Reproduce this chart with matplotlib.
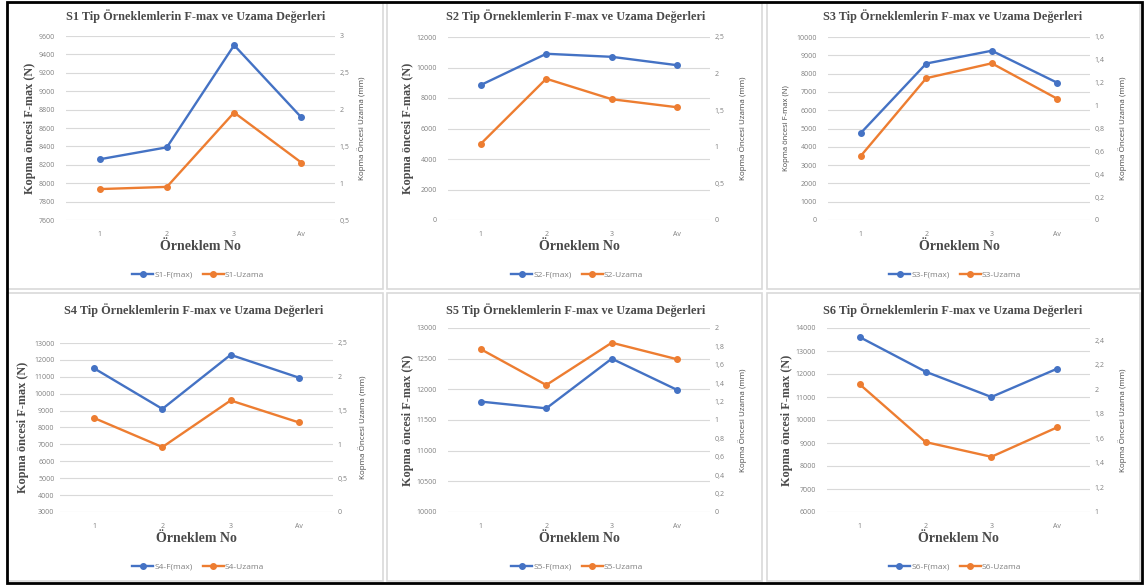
import matplotlib
matplotlib.use('Agg')
import matplotlib.pyplot as plt
from matplotlib.patches import Rectangle
from matplotlib.ticker import FuncFormatter, MultipleLocator

# Data
categories = ['1', '2', '3', 'Av']
names = ['S1', 'S2', 'S3', 'S4', 'S5', 'S6']

fmax = [
    [8260, 8390, 9500, 8715],
    [8850, 10900, 10700, 10150],
    [4750, 8550, 9250, 7500],
    [11500, 9100, 12300, 10950],
    [11800, 11690, 12500, 11990],
    [13600, 12100, 11000, 12230],
]
uzama = [
    [0.92, 0.95, 1.96, 1.28],
    [1.04, 1.93, 1.65, 1.54],
    [0.56, 1.24, 1.37, 1.06],
    [1.39, 0.96, 1.65, 1.325],
    [1.77, 1.38, 1.84, 1.66],
    [2.04, 1.57, 1.45, 1.69],
]

# axis ranges (min, max, step)
left_ax = [(7600, 9600, 200), (0, 12000, 2000), (0, 10000, 1000),
           (3000, 13000, 1000), (10000, 13000, 500), (6000, 14000, 1000)]
right_ax = [(0.5, 3, 0.5), (0, 2.5, 0.5), (0, 1.6, 0.2),
            (0, 2.5, 0.5), (0, 2, 0.2), (1, 2.5, 0.2)]

# Layout in pixels: plot x0, x1, y_top, y_bottom, title x, title y,
# left ylabel x, right ylabel x, xlabel y, legend x, legend y, ytick pad
layout = [
    (66, 335, 36, 220, 196, 16, 30, 362, 247, 198, 275, 8),
    (448, 710, 37, 220, 576, 16, 408, 743, 247, 577, 275, 8),
    (828, 1090, 37, 220, 953, 16, 787, 1123, 247, 955, 275, 8),
    (60, 333, 343, 512, 194, 310, 23, 363, 538, 198, 567, 4),
    (448, 710, 328, 512, 576, 310, 408, 743, 538, 577, 567, 8),
    (827, 1090, 328, 512, 953, 310, 787, 1123, 538, 955, 567, 8),
]
panels = [(7, 383, 3, 289), (387, 762, 3, 289), (767, 1140, 3, 289),
          (7, 383, 293, 581), (387, 762, 293, 581), (767, 1140, 293, 581)]

W, H = 1148, 588
BLUE = '#4472C4'
ORANGE = '#ED7D31'
GRID = '#D9D9D9'
TICK = '#808080'
LABEL = '#4a4a4a'

fig = plt.figure(figsize=(W / 100, H / 100), dpi=100)
fig.patch.set_facecolor('white')


def fx(x):
    return x / W


def fy(y):
    return 1 - y / H


def comma(v, pos):
    return ('%g' % round(v, 6)).replace('.', ',')


# panel frames
for x0, x1, y0, y1 in panels:
    fig.add_artist(Rectangle((fx(x0), fy(y1)), fx(x1 - x0), (y1 - y0) / H,
                             transform=fig.transFigure, fill=False,
                             edgecolor='#D9D9D9', linewidth=1.2))
# outer black frame
fig.add_artist(Rectangle((fx(7), fy(583)), fx(1142 - 7), (583 - 2) / H,
                         transform=fig.transFigure, fill=False,
                         edgecolor='black', linewidth=2))

serif = 'Liberation Serif'
sans = 'Open Sans'

for i in range(6):
    px0, px1, pt, pb, tx, ty, lyx, ryx, xly, lgx, lgy, ypad = layout[i]
    ax = fig.add_axes([fx(px0), fy(pb), fx(px1 - px0), (pb - pt) / H])
    ax2 = ax.twinx()
    xs = list(range(len(categories)))

    l1, = ax.plot(xs, fmax[i], color=BLUE, lw=1.7, marker='o', ms=4,
                  label=names[i] + '-F(max)')
    l2, = ax2.plot(xs, uzama[i], color=ORANGE, lw=1.7, marker='o', ms=4,
                   label=names[i] + '-Uzama')

    lo, hi, st = left_ax[i]
    ax.set_ylim(lo, hi)
    ax.yaxis.set_major_locator(MultipleLocator(st))
    rlo, rhi, rst = right_ax[i]
    ax2.set_ylim(rlo, rhi)
    ax2.yaxis.set_major_locator(MultipleLocator(rst))
    ax2.yaxis.set_major_formatter(FuncFormatter(comma))
    ax.yaxis.set_major_formatter(FuncFormatter(lambda v, p: '%d' % v))

    ax.set_xlim(-0.5, 3.5)
    ax.set_xticks(xs)
    ax.set_xticklabels(categories)
    ax.grid(axis='y', color=GRID, lw=0.8)
    ax.set_axisbelow(True)
    for a in (ax, ax2):
        for s in a.spines.values():
            s.set_visible(False)
        a.tick_params(length=0, labelsize=5, labelcolor=TICK)
        for lab in a.get_xticklabels() + a.get_yticklabels():
            lab.set_fontfamily(sans)
    ax.tick_params(axis='x', pad=8)
    ax.tick_params(axis='y', pad=ypad)
    ax2.tick_params(axis='y', pad=3)

    fig.text(fx(tx), fy(ty), names[i] + ' Tip Örneklemlerin F-max ve Uzama Değerleri',
             ha='center', va='center', fontsize=8.8, fontweight='bold',
             family=serif, color=LABEL)
    fig.text(fx((px0 + px1) / 2), fy(xly), 'Örneklem No', ha='center',
             va='center', fontsize=10, fontweight='bold', family=serif,
             color=LABEL)
    if i == 2:
        fig.text(fx(lyx), fy((pt + pb) / 2), 'Kopma öncesi F-max (N)',
                 rotation=90, ha='center', va='center', fontsize=5.5,
                 family=sans, color=LABEL)
    else:
        fig.text(fx(lyx), fy((pt + pb) / 2), 'Kopma öncesi F-max (N)',
                 rotation=90, ha='center', va='center', fontsize=8.8,
                 fontweight='bold', family=serif, color=LABEL)
    fig.text(fx(ryx), fy((pt + pb) / 2), 'Kopma Öncesi Uzama (mm)',
             rotation=90, ha='center', va='center', fontsize=5.8,
             family=sans, color=LABEL)

    leg = fig.legend(handles=[l1, l2], loc='center',
                     bbox_to_anchor=(fx(lgx), fy(lgy)), ncol=2, frameon=False,
                     handlelength=2.6, columnspacing=1.2,
                     handletextpad=0.1, prop={'family': sans, 'size': 6})
    for t in leg.get_texts():
        t.set_color(TICK)

fig.savefig('out.png', dpi=100, facecolor='white')
